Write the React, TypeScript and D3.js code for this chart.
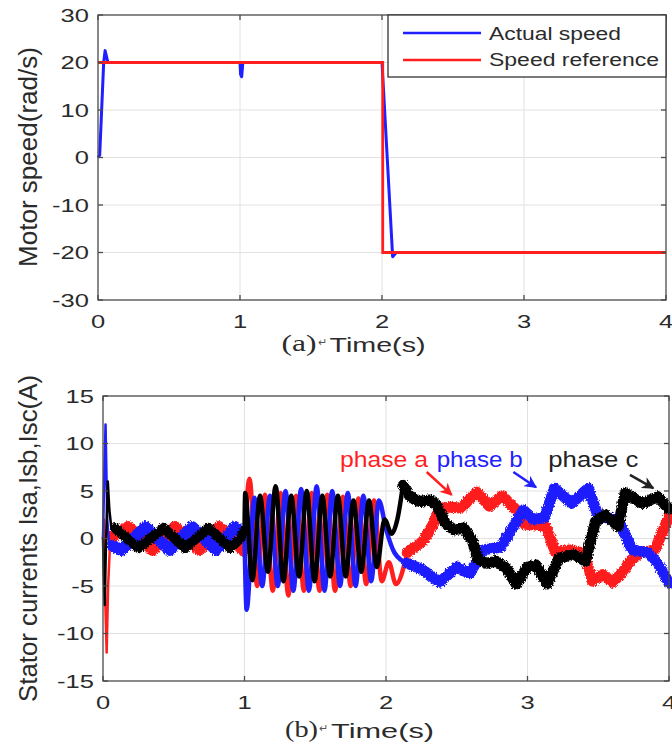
import * as d3 from 'd3'

const W = 672
const H = 753
const SANS = '"Liberation Sans", Arial, Helvetica, sans-serif'
const SERIF = '"Liberation Serif", "Times New Roman", serif'
const RED = '#ff1f1f'
const BLUE = '#1f1fff'
const BLACK = '#000000'

// shared time axis
const timeTicks = [0, 1, 2, 3, 4]

// (a) motor speed
const speedTicks = [30, 20, 10, 0, -10, -20, -30]
const refT = [0, 2.005, 2.005, 4]
const refV = [20, 20, -20, -20]
const actT = [0, 0.012, 0.04, 0.05, 0.058, 0.07, 1.0, 1.004, 1.012, 1.02, 2.0, 2.075, 2.1, 4]
const actV = [0, 0.5, 20, 22.5, 21.5, 20, 20, 17.5, 17, 20, 20, -20.9, -20, -20]

// (b) stator currents
const currentTicks = [15, 10, 5, 0, -5, -10, -15]

// phase a (red)
const aTs = [0, 0.006, 0.015, 0.026, 0.036, 0.05, 0.07]
const aVs = [0, 2, -6, -12, -5, -0.5, 0.3]
const aT0 = [0.07, 0.18, 0.35, 0.51, 0.68, 0.82, 0.99, 1.0]
const aV0 = [0.3, 1.2, -1.2, 1.2, -1.2, 1.2, -1.2, -0.5]
const aT1 = [1.0, 1.035, 1.09, 1.145, 1.2, 1.255, 1.31, 1.365, 1.42, 1.475, 1.53, 1.585, 1.64, 1.695, 1.75, 1.805, 1.86, 1.915, 1.97, 2.02, 2.07, 2.15]
const aV1 = [-0.5, 6.3, -5, 4.6, -5.5, 4.8, -6, 4.5, -5.5, 4.8, -5.5, 4.6, -5.5, 4.4, -5, 4.2, -4.8, 4, -4.5, -2.5, -4.8, -1.5]
const aT2 = [2.15, 2.26, 2.33, 2.38, 2.45, 2.53, 2.64, 2.73, 2.82, 2.92, 2.98, 3.08, 3.13, 3.2, 3.3, 3.4, 3.46, 3.53, 3.6, 3.67, 3.73, 3.8, 3.9, 4.0]
const aV2 = [-1.5, -0.3, 1.4, 3.2, 3.3, 3.2, 4.9, 3.4, 4.5, 3.0, 1.5, 1.4, 1.2, -1.5, -1.2, -1.6, -4.5, -3.8, -4.6, -3.6, -2.3, -1.5, -1.2, 2.3]

// phase b (blue)
const bTs = [0, 0.008, 0.018, 0.03, 0.045, 0.07]
const bVs = [0, 6, 12, 2, -1, -0.8]
const bT0 = [0.07, 0.13, 0.3, 0.47, 0.63, 0.8, 0.93, 1.0]
const bV0 = [-0.8, -1.2, 1.2, -1.2, 1.2, -1.2, 1.2, 0.5]
const bT1 = [1.0, 1.015, 1.07, 1.125, 1.18, 1.235, 1.29, 1.345, 1.4, 1.455, 1.51, 1.565, 1.62, 1.675, 1.73, 1.785, 1.84, 1.895, 1.95, 2.0, 2.06, 2.15]
const bV1 = [0.5, -7.5, 4.3, -5, 4.5, -5, 5, -5.5, 5.2, -5.5, 5.5, -5.5, 5, -5, 4.8, -5, 4.5, -4.5, 4, 1, -1.5, -2.6]
const bT2 = [2.15, 2.26, 2.38, 2.5, 2.59, 2.69, 2.81, 2.9, 2.97, 3.04, 3.12, 3.19, 3.31, 3.43, 3.5, 3.64, 3.74, 3.85, 3.92, 4.0]
const bV2 = [-2.6, -3.3, -4.6, -3.0, -3.7, -1.2, -0.9, 1.25, 3.0, 2.0, 2.2, 5.3, 3.7, 5.3, 2.3, 2.0, -1.2, -1.5, -2.6, -4.7]

// phase c (black)
const cTs = [0, 0.004, 0.012, 0.022, 0.034, 0.045, 0.06, 0.085]
const cVs = [0, -3, -7, 0, 6, 3, 1, 1.1]
const cT0 = [0.085, 0.25, 0.43, 0.58, 0.745, 0.9, 0.97, 1.0]
const cV0 = [1.1, -1, 1.1, -1, 1.1, -1, 0, 0.8]
const cT1 = [1.0, 1.005, 1.055, 1.11, 1.165, 1.22, 1.275, 1.33, 1.385, 1.44, 1.495, 1.55, 1.605, 1.66, 1.715, 1.77, 1.825, 1.88, 1.935, 1.99, 2.04, 2.08, 2.12]
const cV1 = [0.8, 4.8, -4.4, 4.5, -3.5, 5.5, -4.5, 4.5, -4, 5, -4.5, 4.5, -4, 4.5, -4, 4, -3.5, 4, -3, 2, 0.5, 2, 5.6]
const cT2 = [2.12, 2.17, 2.24, 2.31, 2.36, 2.42, 2.48, 2.55, 2.61, 2.65, 2.71, 2.78, 2.85, 2.92, 3.0, 3.06, 3.14, 3.22, 3.33, 3.41, 3.48, 3.55, 3.64, 3.69, 3.81, 3.92, 4.0]
const cV2 = [5.6, 4.4, 3.9, 4.05, 3.5, 1.6, 0.9, 1.1, -0.2, -2.2, -2.6, -2.4, -3.1, -4.8, -3.0, -2.8, -4.8, -2.1, -1.7, -2.4, 1.8, 2.5, 1.3, 4.8, 3.7, 4.4, 3.1]

// annotations in data units: [label, t, v]
const phaseLabels: [string, number, number][] = [['phase a', 1.675, 7.56], ['phase b', 2.358, 7.56], ['phase c', 3.147, 7.56]]
const phaseLabelLen = [88, 86, 90]
const arrowFrom: [number, number][] = [[2.288, 7.0], [2.9, 7.0], [3.724, 6.7]]
const arrowTo: [number, number][] = [[2.464, 4.6], [3.06, 5.4], [3.889, 5.3]]

const pts = (t: number[], v: number[]) => t.map((d, i) => [d, v[i]] as [number, number])

type Scale = d3.ScaleLinear<number, number>

function Grid({ x, y, yTicks }: { x: Scale; y: Scale; yTicks: number[] }) {
  const [x0, x1] = x.range()
  const [y0, y1] = y.range()
  return (
    <g>
      {timeTicks.slice(1, -1).map(t => (
        <line key={'gx' + t} x1={x(t)} x2={x(t)} y1={y0} y2={y1} stroke="#e2e2e2" strokeWidth={1} />
      ))}
      {yTicks.slice(1, -1).map(v => (
        <line key={'gy' + v} x1={x0} x2={x1} y1={y(v)} y2={y(v)} stroke="#e2e2e2" strokeWidth={1} />
      ))}
    </g>
  )
}

function Box({ x, y, yTicks }: { x: Scale; y: Scale; yTicks: number[] }) {
  const [x0, x1] = x.range()
  const [y0, y1] = y.range()
  const tk = 5
  return (
    <g stroke="#4a4a4a" strokeWidth={1.3} fill="none">
      <rect x={x0} y={y1} width={x1 - x0} height={y0 - y1} />
      {timeTicks.map(t => (
        <g key={'tx' + t}>
          <line x1={x(t)} x2={x(t)} y1={y0} y2={y0 - tk} />
          <line x1={x(t)} x2={x(t)} y1={y1} y2={y1 + tk} />
        </g>
      ))}
      {yTicks.map(v => (
        <g key={'ty' + v}>
          <line x1={x0} x2={x0 + tk} y1={y(v)} y2={y(v)} />
          <line x1={x1} x2={x1 - tk} y1={y(v)} y2={y(v)} />
        </g>
      ))}
    </g>
  )
}

function TickLabels({ x, y, yTicks }: { x: Scale; y: Scale; yTicks: number[] }) {
  const [x0] = x.range()
  const [y0] = y.range()
  const st = { fontFamily: SANS, fontSize: 18.5, fill: '#2b2b2b' }
  return (
    <g>
      {yTicks.map(v => (
        <text key={'ly' + v} transform={`translate(${x0 - 9},${y(v) + 6.8}) scale(1.38,1)`} textAnchor="end" {...st}>
          {v}
        </text>
      ))}
      {timeTicks.map(t => (
        <text key={'lx' + t} transform={`translate(${x(t)},${y0 + 28}) scale(1.38,1)`} textAnchor="middle" {...st}>
          {t}
        </text>
      ))}
    </g>
  )
}

function Caption({ tag, x, y, tagLen, timeLen }: { tag: string; x: number; y: number; tagLen: number; timeLen: number }) {
  return (
    <g fill="#2b2b2b">
      <text x={x} y={y} fontFamily={SERIF} fontSize={23} textLength={tagLen} lengthAdjust="spacingAndGlyphs">{tag}</text>
      <text x={x + tagLen + 1} y={y - 5} fontFamily={SANS} fontSize={11} fill="#555">↵</text>
      <text x={x + tagLen + 13} y={y + 1} fontFamily={SANS} fontSize={20} textLength={timeLen} lengthAdjust="spacingAndGlyphs">Time(s)</text>
    </g>
  )
}

export default function App() {
  // panel (a)
  const xa = d3.scaleLinear().domain([0, 4]).range([98, 666])
  const ya = d3.scaleLinear().domain([-30, 30]).range([300, 15])
  // panel (b)
  const xb = d3.scaleLinear().domain([0, 4]).range([103, 669])
  const yb = d3.scaleLinear().domain([-15, 15]).range([681, 396])

  const lineA = d3.line<[number, number]>().x(d => xa(d[0])).y(d => ya(d[1]))
  const lineB = d3.line<[number, number]>().x(d => xb(d[0])).y(d => yb(d[1]))
  const lineBs = d3.line<[number, number]>().x(d => xb(d[0])).y(d => yb(d[1])).curve(d3.curveMonotoneX)

  const phases = [
    { color: RED, w0: 12, s: pts(aTs, aVs), p0: pts(aT0, aV0), p1: pts(aT1, aV1), p2: pts(aT2, aV2) },
    { color: BLUE, w0: 12, s: pts(bTs, bVs), p0: pts(bT0, bV0), p1: pts(bT1, bV1), p2: pts(bT2, bV2) },
    { color: BLACK, w0: 10, s: pts(cTs, cVs), p0: pts(cT0, cV0), p1: pts(cT1, cV1), p2: pts(cT2, cV2) },
  ]
  const phaseColors = [RED, BLUE, '#222222']

  return (
    <svg width={W} height={H} viewBox={`0 0 ${W} ${H}`} style={{ display: 'block', position: 'absolute', left: 0, top: 0, background: '#fff' }}>
      <defs>
        <filter id="jit" filterUnits="userSpaceOnUse" x="0" y="0" width={W} height={H}>
          <feTurbulence type="fractalNoise" baseFrequency="0.9 0.6" numOctaves={1} seed={4} result="n" />
          <feDisplacementMap in="SourceGraphic" in2="n" scale={5} xChannelSelector="R" yChannelSelector="G" />
        </filter>
        {phaseColors.map((c, i) => (
          <marker key={i} id={'ah' + i} viewBox="0 0 10 10" refX={9} refY={5} markerWidth={5} markerHeight={5} orient="auto-start-reverse" markerUnits="strokeWidth">
            <path d="M0,0 L10,5 L0,10 L3,5 Z" fill={c} />
          </marker>
        ))}
      </defs>
      <rect width={W} height={H} fill="#fff" />

      {/* (a) speed */}
      <Grid x={xa} y={ya} yTicks={speedTicks} />
      <path d={lineA(pts(actT, actV)) ?? ''} fill="none" stroke={BLUE} strokeWidth={3} strokeLinejoin="round" />
      <path d={lineA(pts(refT, refV)) ?? ''} fill="none" stroke={RED} strokeWidth={2.8} />
      <Box x={xa} y={ya} yTicks={speedTicks} />
      <TickLabels x={xa} y={ya} yTicks={speedTicks} />
      <text transform="translate(37,157) rotate(-90)" textAnchor="middle" fontFamily={SANS} fontSize={25} fill="#2b2b2b" textLength={220} lengthAdjust="spacingAndGlyphs">
        Motor speed(rad/s)
      </text>
      <Caption tag="(a)" x={281.5} y={351} tagLen={35} timeLen={96} />

      {/* legend */}
      <g>
        <rect x={388} y={15} width={278} height={62} fill="#fff" stroke="#333" strokeWidth={1.3} />
        <line x1={403} x2={481} y1={33} y2={33} stroke={BLUE} strokeWidth={2.5} />
        <line x1={403} x2={481} y1={60} y2={60} stroke={RED} strokeWidth={2.5} />
        <text x={489} y={39.5} fontFamily={SANS} fontSize={17.5} fill="#2b2b2b" textLength={132} lengthAdjust="spacingAndGlyphs">Actual speed</text>
        <text x={489} y={65.5} fontFamily={SANS} fontSize={17.5} fill="#2b2b2b" textLength={170} lengthAdjust="spacingAndGlyphs">Speed reference</text>
      </g>

      {/* (b) currents */}
      <Grid x={xb} y={yb} yTicks={currentTicks} />
      <g strokeLinejoin="round" strokeLinecap="round" fill="none">
        {phases.map((p, i) => (
          <g key={i} stroke={p.color}>
            <path d={lineB(p.s) ?? ''} strokeWidth={2.5} />
            <path d={lineB(p.p0) ?? ''} strokeWidth={p.w0} filter="url(#jit)" />
            <path d={lineBs(p.p1) ?? ''} strokeWidth={4.5} />
            <path d={lineB(p.p2) ?? ''} strokeWidth={11} filter="url(#jit)" />
          </g>
        ))}
      </g>
      <Box x={xb} y={yb} yTicks={currentTicks} />
      <TickLabels x={xb} y={yb} yTicks={currentTicks} />
      <text transform="translate(37,538.5) rotate(-90)" textAnchor="middle" fontFamily={SANS} fontSize={25} fill="#2b2b2b" textLength={327} lengthAdjust="spacingAndGlyphs">
        Stator currents Isa,Isb,Isc(A)
      </text>
      <Caption tag="(b)" x={285} y={737} tagLen={33} timeLen={103} />

      {/* phase annotations */}
      {phaseLabels.map(([label, t, v], i) => (
        <text key={label} x={xb(t)} y={yb(v)} fontFamily={SANS} fontSize={22} fill={phaseColors[i]} textLength={phaseLabelLen[i]} lengthAdjust="spacingAndGlyphs">
          {label}
        </text>
      ))}
      {arrowFrom.map((f, i) => (
        <line key={'ar' + i} x1={xb(f[0])} y1={yb(f[1])} x2={xb(arrowTo[i][0])} y2={yb(arrowTo[i][1])} stroke={phaseColors[i]} strokeWidth={2.5} markerEnd={`url(#ah${i})`} />
      ))}
    </svg>
  )
}
